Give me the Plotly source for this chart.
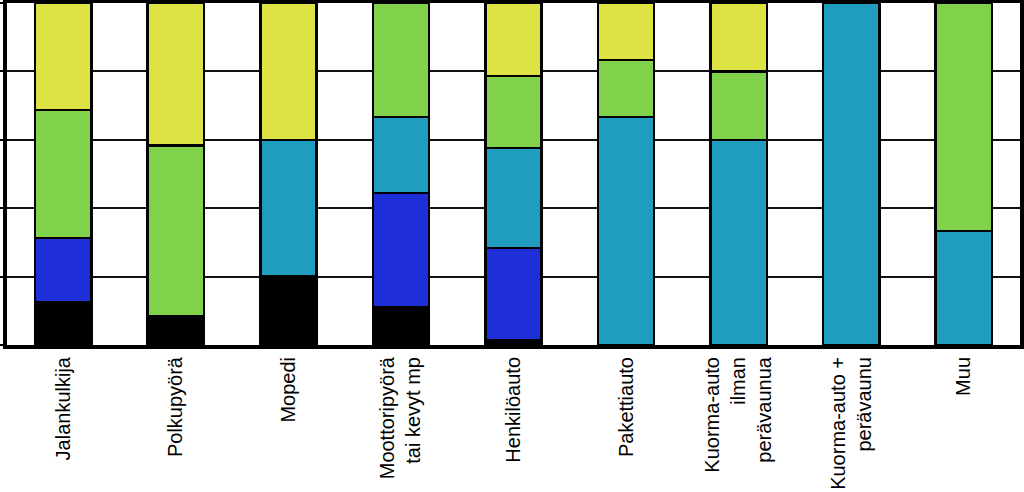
import plotly.graph_objects as go

categories = ["Jalankulkija", "Polkupyörä", "Mopedi", "Moottoripyörä<br>tai kevyt mp",
              "Henkilöauto", "Pakettiauto", "Kuorma-auto<br>ilman<br>perävaunua",
              "Kuorma-auto +<br>perävaunu", "Muu"]

black_vals = [12.5, 8.3, 20.0, 11.1, 1.5, None, None, None, None]
blue_vals = [18.75, None, None, 33.3, 26.9, None, None, None, None]
teal_vals = [None, None, 40.0, 22.2, 29.2, 66.7, 60.0, 100.0, 33.3]
green_vals = [37.5, 50.0, None, 33.4, 21.1, 16.7, 20.0, None, 66.7]
yellow_vals = [31.25, 41.7, 40.0, None, 21.3, 16.6, 20.0, None, None]

series = [
    ("musta", black_vals, "#000000"),
    ("sininen", blue_vals, "#1f2fd8"),
    ("turkoosi", teal_vals, "#1f9dbf"),
    ("vihreä", green_vals, "#80d24a"),
    ("keltainen", yellow_vals, "#dce342"),
]

fig = go.Figure()
for name, vals, col in series:
    fig.add_trace(go.Bar(
        x=categories, y=vals, name=name,
        marker=dict(color=col, line=dict(color="#000000", width=2.5)),
    ))

fig.update_layout(
    barmode="stack",
    bargap=0.5,
    width=1024, height=492,
    margin=dict(l=7, r=4, t=3, b=147),
    paper_bgcolor="white",
    plot_bgcolor="white",
    showlegend=False,
    font=dict(family="Liberation Sans, Arial, sans-serif", size=20, color="black"),
)
fig.update_xaxes(
    automargin=False,
    showline=True, linecolor="black", linewidth=4, mirror=True,
    ticks="", tickangle=-90, tickfont=dict(size=20),
    showgrid=False,
)
fig.update_yaxes(
    automargin=False,
    range=[0, 100], dtick=20, showticklabels=False,
    showline=True, linecolor="black", linewidth=4, mirror=True,
    ticks="outside", ticklen=6, tickwidth=1.5, tickcolor="black",
    showgrid=True, gridcolor="#111111", gridwidth=1.5,
    zeroline=False,
)

fig.write_html("out.html", config={"displayModeBar": False},
               post_script="document.body.style.margin='0px';")
